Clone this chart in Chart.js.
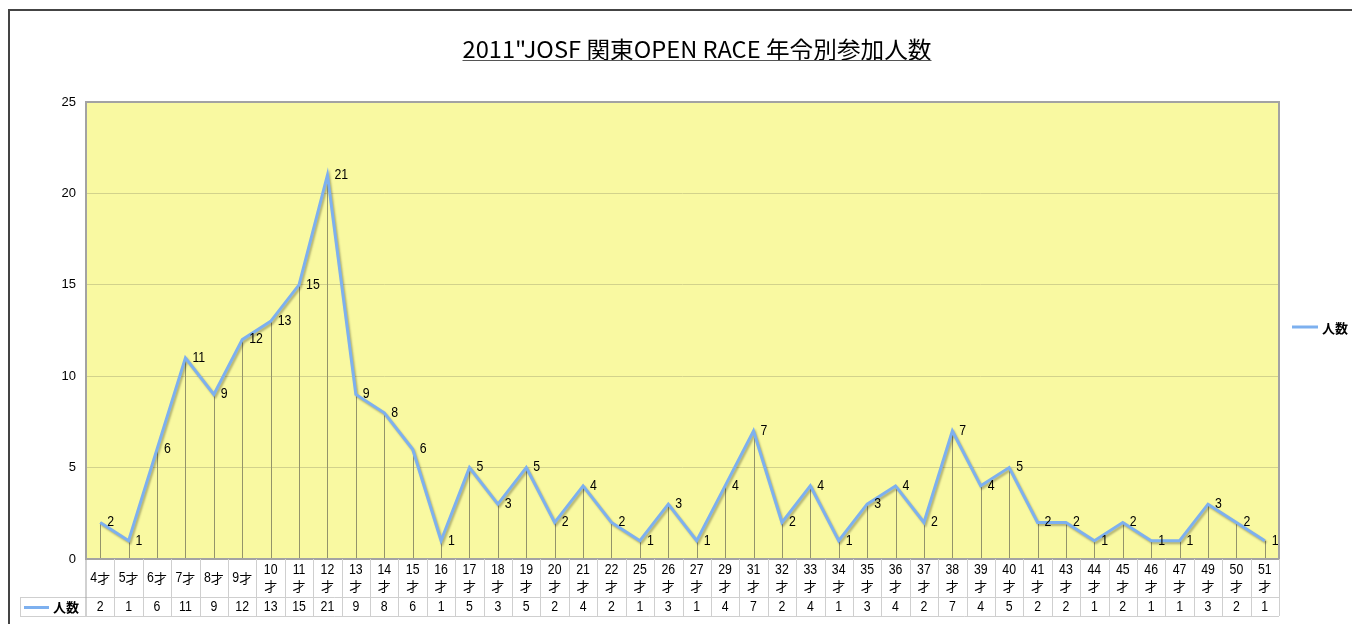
<!DOCTYPE html>
<html><head><meta charset="utf-8">
<script src="https://cdn.jsdelivr.net/npm/chart.js@4/dist/chart.umd.min.js"></script>
<style>html,body{margin:0;padding:0;background:#fff;overflow:hidden}</style>
</head><body>
<canvas id="c" width="1352" height="624" style="display:block;width:1352px;height:624px"></canvas>
<script>
const TITLE = '2011"JOSF 関東OPEN RACE 年令別参加人数';
const SERIES_NAME = '人数';
const categories = ['4才','5才','6才','7才','8才','9才','10才','11才','12才','13才','14才','15才','16才',
  '17才','18才','19才','20才','21才','22才','25才','26才','27才','29才','31才','32才','33才','34才','35才',
  '36才','37才','38才','39才','40才','41才','43才','44才','45才','46才','47才','49才','50才','51才'];
const counts = [2,1,6,11,9,12,13,15,21,9,8,6,1,
  5,3,5,2,4,2,1,3,1,4,7,2,4,1,3,
  4,2,7,4,5,2,2,1,2,1,1,3,2,1];
const yTicks = [0,5,10,15,20,25];

const NUM_FONT = '14px "Liberation Sans", "Noto Sans CJK JP", sans-serif';
const CJK_FONT = '13px "Noto Sans CJK JP", sans-serif';
const NUM_SX = 0.88;
const LINE_COLOR = '#7db0ef';

function txt(ctx, s, x, y, font, sx, align) {
  ctx.save();
  ctx.font = font;
  ctx.textAlign = align || 'center';
  ctx.textBaseline = 'middle';
  ctx.translate(x, y);
  ctx.scale(sx, 1);
  ctx.fillText(s, 0, 0);
  ctx.restore();
}

const decor = {
  id: 'decor',
  beforeDraw(chart) {
    const {ctx, chartArea: a} = chart;
    ctx.save();
    ctx.fillStyle = '#fff';
    ctx.fillRect(0, 0, chart.width, chart.height);
    // outer frame
    ctx.strokeStyle = '#444';
    ctx.lineWidth = 2;
    ctx.beginPath();
    ctx.moveTo(9, chart.height + 2); ctx.lineTo(9, 10); ctx.lineTo(chart.width + 2, 10);
    ctx.stroke();
    // plot background
    ctx.fillStyle = '#f9f9a1';
    ctx.fillRect(a.left, a.top, a.right - a.left, a.bottom - a.top);
    // title (23px, compressed to reference width)
    ctx.fillStyle = '#000';
    const tfont = '23px "Noto Sans CJK JP", sans-serif';
    ctx.font = tfont;
    const w0 = ctx.measureText(TITLE).width;
    const sx = 469 / w0;
    ctx.save();
    ctx.translate(697, 58);
    ctx.scale(sx, 1);
    ctx.textAlign = 'center';
    ctx.textBaseline = 'alphabetic';
    ctx.fillText(TITLE, 0, 0);
    ctx.restore();
    ctx.strokeStyle = '#555';
    ctx.lineWidth = 1;
    ctx.beginPath();
    ctx.moveTo(697 - 234.5, 60.5); ctx.lineTo(697 + 234.5, 60.5);
    ctx.stroke();
    ctx.restore();
  },
  beforeDatasetsDraw(chart) {
    const {ctx, chartArea: a} = chart;
    const meta = chart.getDatasetMeta(0);
    ctx.save();
    ctx.strokeStyle = '#94946a';
    ctx.lineWidth = 1;
    meta.data.forEach(p => {
      const x = Math.round(p.x) + 0.5;
      ctx.beginPath(); ctx.moveTo(x, p.y); ctx.lineTo(x, a.bottom); ctx.stroke();
    });
    // plot border
    ctx.strokeStyle = '#a3a3a3';
    ctx.lineWidth = 2;
    ctx.strokeRect(a.left, a.top, a.right - a.left, a.bottom - a.top);
    ctx.restore();
  },
  beforeDatasetDraw(chart) {
    const ctx = chart.ctx;
    ctx.save();
    ctx.shadowColor = 'rgba(0,0,0,0.28)';
    ctx.shadowOffsetX = 1.5;
    ctx.shadowOffsetY = 2;
    ctx.shadowBlur = 2;
  },
  afterDatasetDraw(chart) {
    chart.ctx.restore();
  },
  afterDraw(chart) {
    const {ctx, chartArea: a} = chart;
    const xs = chart.scales.x;
    const meta = chart.getDatasetMeta(0);
    const n = categories.length;
    const cw = (xs.right - xs.left) / n;
    ctx.save();
    ctx.fillStyle = '#000';
    // data labels
    meta.data.forEach((p, i) => txt(ctx, String(counts[i]), p.x + 7, p.y, NUM_FONT, NUM_SX, 'left'));

    // data table
    const r1Top = a.bottom, r1Bot = 597, r2Bot = 616, hdrLeft = 20;
    ctx.strokeStyle = '#cfcfcf';
    ctx.lineWidth = 1;
    for (let k = 1; k <= n; k++) {
      const x = Math.round(xs.left + k * cw) + 0.5;
      ctx.beginPath(); ctx.moveTo(x, r1Top); ctx.lineTo(x, r2Bot); ctx.stroke();
    }
    ctx.beginPath();
    ctx.moveTo(hdrLeft, r1Bot + 0.5); ctx.lineTo(xs.right, r1Bot + 0.5);
    ctx.moveTo(hdrLeft, r2Bot + 0.5); ctx.lineTo(xs.right, r2Bot + 0.5);
    ctx.moveTo(hdrLeft + 0.5, r1Bot); ctx.lineTo(hdrLeft + 0.5, r2Bot);
    ctx.stroke();
    ctx.strokeStyle = '#a3a3a3';
    ctx.beginPath(); ctx.moveTo(xs.left, r1Top); ctx.lineTo(xs.left, r2Bot); ctx.stroke();

    const mid1 = (r1Top + r1Bot) / 2;
    const mid2 = (r1Bot + r2Bot) / 2 + 1;
    categories.forEach((lab, i) => {
      const x = xs.getPixelForValue(i);
      ctx.font = CJK_FONT;
      if (ctx.measureText(lab).width > cw - 4) {
        const num = lab.slice(0, -1), suf = lab.slice(-1);
        txt(ctx, num, x, mid1 - 8, NUM_FONT, NUM_SX);
        txt(ctx, suf, x, mid1 + 8, CJK_FONT, 1);
      } else {
        const num = lab.slice(0, -1), suf = lab.slice(-1);
        ctx.font = NUM_FONT;
        const wn = ctx.measureText(num).width * NUM_SX;
        ctx.font = CJK_FONT;
        const ws = ctx.measureText(suf).width;
        const x0 = x - (wn + ws) / 2;
        txt(ctx, num, x0, mid1, NUM_FONT, NUM_SX, 'left');
        txt(ctx, suf, x0 + wn, mid1, CJK_FONT, 1, 'left');
      }
      txt(ctx, String(counts[i]), x, mid2, NUM_FONT, NUM_SX);
    });
    // table header legend key
    ctx.strokeStyle = LINE_COLOR; ctx.lineWidth = 3;
    ctx.beginPath(); ctx.moveTo(24, mid2); ctx.lineTo(49, mid2); ctx.stroke();
    txt(ctx, SERIES_NAME, 53, mid2, 'bold ' + CJK_FONT, 1, 'left');

    // right legend
    ctx.beginPath(); ctx.moveTo(1292, 327); ctx.lineTo(1318, 327); ctx.stroke();
    txt(ctx, SERIES_NAME, 1322, 328, 'bold ' + CJK_FONT, 1, 'left');
    ctx.restore();
  }
};

new Chart(document.getElementById('c'), {
  type: 'line',
  data: {
    labels: categories,
    datasets: [{
      label: SERIES_NAME, data: counts,
      borderColor: LINE_COLOR, backgroundColor: LINE_COLOR,
      borderWidth: 3, pointRadius: 0, tension: 0, fill: false,
      borderJoinStyle: 'miter'
    }]
  },
  options: {
    responsive: false, animation: false, devicePixelRatio: 1,
    layout: {padding: {top: 102, left: 0, right: 73, bottom: 0}},
    plugins: {legend: {display: false}, title: {display: false}, tooltip: {enabled: false}},
    scales: {
      x: {
        type: 'category', offset: true,
        grid: {display: false}, border: {display: false},
        ticks: {display: false},
        afterFit(s) { s.height = 65; }
      },
      y: {
        min: 0, max: 25,
        afterBuildTicks(s) { s.ticks = yTicks.map(v => ({value: v})); },
        ticks: {color: '#000', font: {family: '"Liberation Sans", sans-serif', size: 13}, padding: 10},
        grid: {color: c => (c.tick && (c.tick.value === 0 || c.tick.value === 25)) ? 'rgba(0,0,0,0)' : '#d2d28c', drawTicks: false, lineWidth: 1},
        border: {display: false},
        afterFit(s) { s.width = 86; }
      }
    }
  },
  plugins: [decor]
});
</script>
</body></html>
